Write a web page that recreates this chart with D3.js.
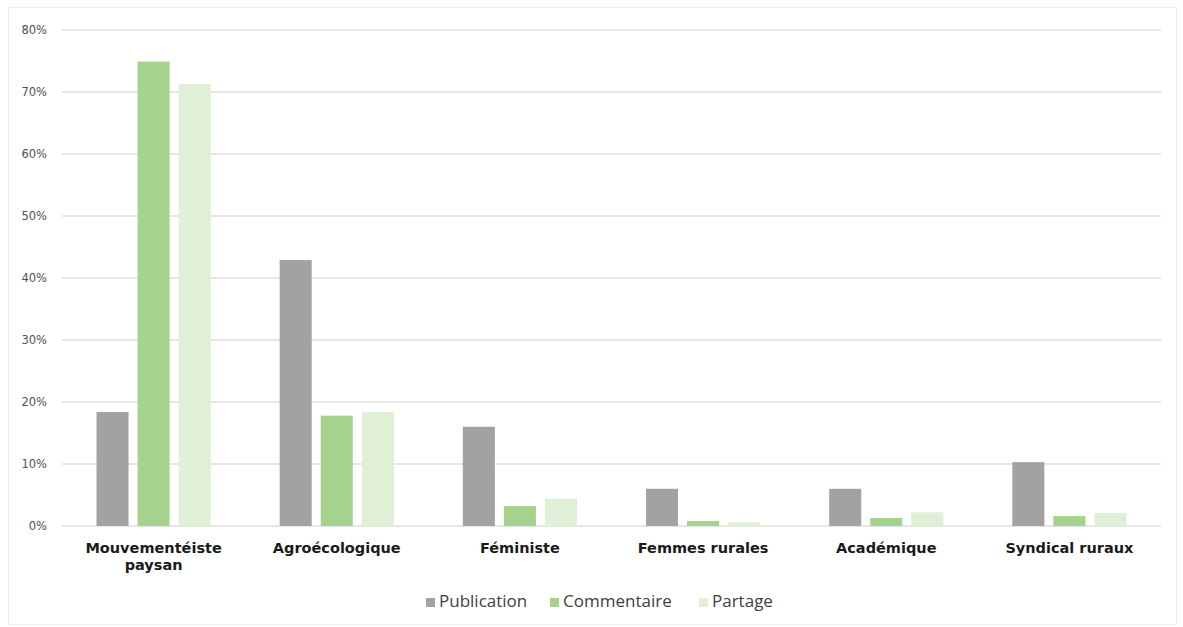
<!DOCTYPE html>
<html>
<head>
<meta charset="utf-8">
<script src="https://cdn.jsdelivr.net/npm/d3@7"></script>
<style>
  body { margin: 0; background: #fff; }
  svg { display: block; }
</style>
</head>
<body>
<svg id="chart" width="1183" height="627"></svg>
<script>
const categories = [['Mouvementéiste', 'paysan'], ['Agroécologique'], ['Féministe'], ['Femmes rurales'], ['Académique'], ['Syndical ruraux']]
const seriesNames = ['Publication', 'Commentaire', 'Partage']
const publication = [18.4, 42.9, 16.0, 6.0, 6.0, 10.3]
const commentaire = [74.9, 17.8, 3.2, 0.8, 1.3, 1.6]
const partage = [71.3, 18.4, 4.4, 0.6, 2.2, 2.1]
const yTicks = [0, 10, 20, 30, 40, 50, 60, 70, 80]
const colors = ['#a2a2a2', '#a5d38c', '#dff0d6']

const svg = d3.select('#chart')
const width = 1183
const height = 627
const margin = { top: 30, right: 22, bottom: 101, left: 62 }

// outer frame
svg.append('rect')
  .attr('x', 8.5).attr('y', 7.5)
  .attr('width', 1168).attr('height', 617)
  .attr('fill', 'none')
  .attr('stroke', '#ececec')
  .attr('stroke-width', 1)

const labels = categories.map(c => c.join(' '))
const values = [publication, commentaire, partage]

const x = d3.scaleBand()
  .domain(labels)
  .range([margin.left, width - margin.right])

const x1 = d3.scaleBand()
  .domain(seriesNames)
  .range([0, x.bandwidth()])
  .paddingInner(0.22)
  .paddingOuter(0.84)

const y = d3.scaleLinear()
  .domain([0, 80])
  .range([height - margin.bottom, margin.top])

// gridlines
svg.append('g')
  .selectAll('line')
  .data(yTicks)
  .enter()
  .append('line')
  .attr('x1', margin.left)
  .attr('x2', width - margin.right)
  .attr('y1', d => y(d))
  .attr('y2', d => y(d))
  .attr('stroke', '#e6e6e6')
  .attr('stroke-width', 2)

// y axis labels
const yAxis = d3.axisLeft(y)
  .tickValues(yTicks)
  .tickFormat(d => d + '%')
  .tickSize(0)
  .tickPadding(15)

svg.append('g')
  .attr('transform', 'translate(' + margin.left + ',0)')
  .call(yAxis)
  .call(g => g.select('.domain').remove())
  .selectAll('text')
  .attr('font-family', 'DejaVu Sans, Verdana, sans-serif')
  .attr('font-size', 11.5)
  .attr('fill', '#505050')

// bars
const groups = svg.append('g')
  .selectAll('g')
  .data(labels)
  .enter()
  .append('g')
  .attr('transform', d => 'translate(' + x(d) + ',0)')

groups.selectAll('rect')
  .data((d, i) => seriesNames.map((s, j) => ({ series: s, value: values[j][i], color: colors[j] })))
  .enter()
  .append('rect')
  .attr('x', d => x1(d.series))
  .attr('width', x1.bandwidth())
  .attr('y', d => y(d.value))
  .attr('height', d => y(0) - y(d.value))
  .attr('fill', d => d.color)

// category labels
const xAxis = d3.axisBottom(x).tickSize(0).tickPadding(0)
const xg = svg.append('g')
  .attr('transform', 'translate(0,' + y(0) + ')')
  .call(xAxis)
xg.select('.domain').remove()
xg.selectAll('text').remove()
xg.selectAll('.tick').each(function (d, i) {
  const t = d3.select(this).append('text')
    .attr('text-anchor', 'middle')
    .attr('font-family', 'DejaVu Sans, Verdana, sans-serif')
    .attr('font-weight', 'bold')
    .attr('font-size', 14.5)
    .attr('fill', '#1a1a1a')
  categories[i].forEach((line, k) => {
    t.append('tspan')
      .attr('x', 0)
      .attr('y', 27 + k * 17)
      .text(line)
  })
})

// legend
const legendX = [426, 550, 699]
const legend = svg.append('g')
  .selectAll('g')
  .data(seriesNames)
  .enter()
  .append('g')
  .attr('transform', (d, i) => 'translate(' + legendX[i] + ',607)')

legend.append('rect')
  .attr('x', 0).attr('y', -9)
  .attr('width', 9).attr('height', 9)
  .attr('fill', (d, i) => colors[i])

legend.append('text')
  .attr('x', 13)
  .attr('y', 0)
  .attr('font-family', 'Open Sans, sans-serif')
  .attr('font-size', 17)
  .attr('fill', '#404040')
  .text(d => d)
</script>
</body>
</html>
